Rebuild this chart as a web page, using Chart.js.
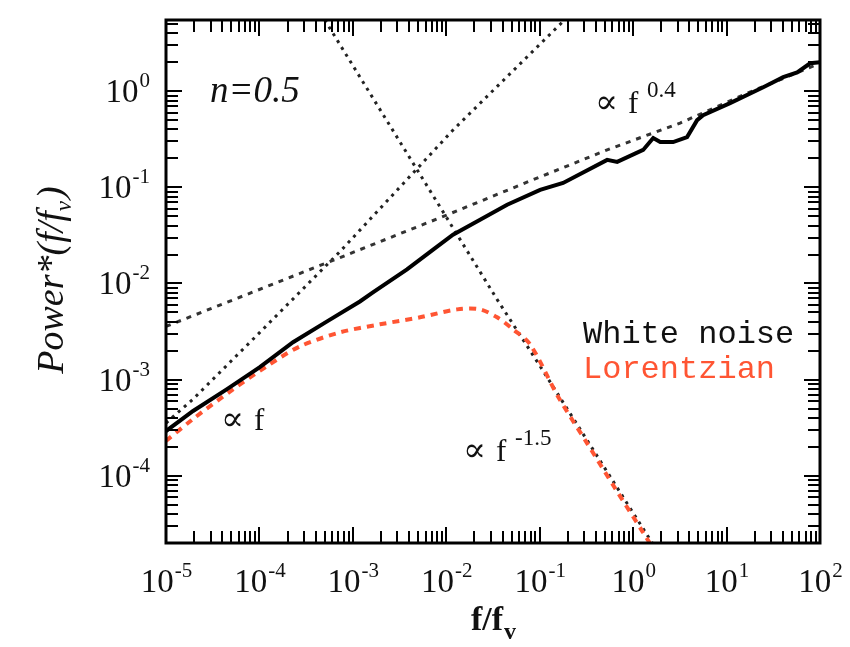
<!DOCTYPE html>
<html>
<head>
<meta charset="utf-8">
<script src="https://cdn.jsdelivr.net/npm/chart.js@4.4.1/dist/chart.umd.min.js"></script>
<style>
  html, body { margin: 0; padding: 0; background: #fff; }
  #wrap { width: 850px; height: 647px; position: relative; }
</style>
</head>
<body>
<div id="wrap"><canvas id="chart"></canvas></div>
<script>
// values, f/f_v against Power*(f/f_v)
const whiteFreq = [1e-5, 1.95e-5, 4.5e-5, 1.01e-4, 2.29e-4, 5.3e-4, 1.19e-3, 1.64e-3, 3.8e-3, 7.23e-3,
  1.18e-2, 2.3e-2, 4.48e-2, 0.101, 0.178, 0.527, 0.675, 1.28, 1.64, 1.95,
  2.68, 3.78, 4.84, 5.61, 10.9, 24.7, 40.4, 57.0, 78.5, 100];
const whitePower = [2.92e-4, 4.72e-4, 7.98e-4, 1.35e-3, 2.45e-3, 4.04e-3, 6.5e-3, 8.07e-3, 1.4e-2, 2.25e-2,
  3.22e-2, 4.6e-2, 6.59e-2, 9.42e-2, 0.111, 0.193, 0.184, 0.245, 0.326, 0.296,
  0.296, 0.333, 0.5, 0.564, 0.752, 1.1, 1.4, 1.57, 1.95, 2.0];

const lorFreq = [1e-5, 1.95e-5, 5.09e-5, 1.2e-4, 2.72e-4, 7.29e-4, 1.95e-3, 5.24e-3, 1.31e-2, 2.3e-2,
  3.5e-2, 5.19e-2, 7.89e-2, 0.158, 0.316, 0.631, 1.26, 2.0];
const lorPower = [2.31e-4, 3.9e-4, 7.78e-4, 1.38e-3, 2.22e-3, 3.1e-3, 3.76e-3, 4.45e-3, 5.38e-3, 5.38e-3,
  4.45e-3, 3.33e-3, 2.33e-3, 6.6e-4, 2.24e-4, 7.6e-5, 2.63e-5, 1.29e-5];

// guide lines: ∝ f, ∝ f^0.4, ∝ f^-1.5
const slope1Freq = [1e-5, 1.95e-5, 1.01e-4, 7.29e-4, 1.18e-2, 0.153, 0.187];
const slope1Power = [3.54e-4, 6.28e-4, 3.1e-3, 2.15e-2, 0.394, 4.61, 5.57];
const slope04Freq = [1e-5, 7.29e-4, 8.59e-3, 8.49e-2, 0.527, 3.18, 16.6, 100];
const slope04Power = [3.58e-3, 1.86e-2, 4.83e-2, 0.12, 0.245, 0.466, 0.953, 1.95];
const slopeM15Freq = [4.47e-4, 5.04e-4, 3.5e-2, 0.101, 1.28, 1.78];
const slopeM15Power = [6.46, 5.44, 6.82e-3, 1.38e-3, 2.82e-5, 1.7e-5];

const xTickExps = [-5, -4, -3, -2, -1, 0, 1, 2];
const yTickExps = [-4, -3, -2, -1, 0];

const RED = '#ff5533';
const SERIF = '"Liberation Serif", "DejaVu Serif", serif';

const pts = (xs, ys) => xs.map((v, i) => ({ x: v, y: ys[i] }));

// decade ticks plus the 2..9 minors inside the axis range
function logTicks(min, max) {
  const out = [];
  for (let e = Math.floor(Math.log10(min)); e <= Math.ceil(Math.log10(max)); e++) {
    for (let m = 1; m <= 9; m++) {
      const v = m * Math.pow(10, e);
      if (v >= min * 0.999 && v <= max * 1.001) out.push({ value: v });
    }
  }
  return out;
}
const isDecade = v => Math.abs(Math.log10(v) - Math.round(Math.log10(v))) < 1e-6;

function drawPow(ctx, exp, x, y, align) {
  const base = '10', sup = String(exp);
  ctx.font = '33px ' + SERIF;
  const wb = ctx.measureText(base).width;
  ctx.font = '21px ' + SERIF;
  const ws = ctx.measureText(sup).width;
  const left = align === 'center' ? x - (wb + ws) / 2 : x - wb - ws;
  ctx.font = '33px ' + SERIF;
  ctx.fillText(base, left, y);
  ctx.font = '21px ' + SERIF;
  ctx.fillText(sup, left + wb + 1, y - 15);
}

function propTo(ctx, x, y, sup) {
  ctx.font = '34px "DejaVu Serif", serif';
  ctx.fillText('∝', x - 2, y);
  ctx.font = '31px ' + SERIF;
  ctx.fillText('f', x + 31, y);
  if (sup) {
    ctx.font = '23px ' + SERIF;
    ctx.fillText(sup, x + 50, y - 16);
  }
}

const framePlugin = {
  id: 'frame',
  afterDraw(chart) {
    const { ctx, chartArea: a, scales: { x, y } } = chart;
    ctx.save();
    ctx.strokeStyle = '#000';
    ctx.fillStyle = '#111';
    ctx.lineWidth = 2;
    ctx.beginPath();
    x.ticks.forEach(t => {
      const px = Math.round(x.getPixelForValue(t.value));
      const len = isDecade(t.value) ? 16 : 12;
      ctx.moveTo(px, a.bottom); ctx.lineTo(px, a.bottom - len);
      ctx.moveTo(px, a.top); ctx.lineTo(px, a.top + len);
    });
    y.ticks.forEach(t => {
      const py = Math.round(y.getPixelForValue(t.value));
      const len = isDecade(t.value) ? 16 : 12;
      ctx.moveTo(a.left, py); ctx.lineTo(a.left + len, py);
      ctx.moveTo(a.right, py); ctx.lineTo(a.right - len, py);
    });
    ctx.stroke();
    ctx.lineWidth = 3;
    ctx.strokeRect(a.left, a.top, a.right - a.left, a.bottom - a.top);

    ctx.textBaseline = 'alphabetic';
    ctx.textAlign = 'left';
    xTickExps.forEach(e => drawPow(ctx, e, x.getPixelForValue(Math.pow(10, e)), a.bottom + 49, 'center'));
    yTickExps.forEach(e => drawPow(ctx, e, a.left - 17, y.getPixelForValue(Math.pow(10, e)) + 11, 'right'));

    // x title f/f_v
    ctx.font = 'bold 34px ' + SERIF;
    const wt = ctx.measureText('f/f').width;
    ctx.font = 'bold 24px ' + SERIF;
    const wv = ctx.measureText('v').width;
    const tx = (a.left + a.right) / 2 - (wt + wv) / 2;
    ctx.font = 'bold 34px ' + SERIF;
    ctx.fillText('f/f', tx, 630);
    ctx.font = 'bold 24px ' + SERIF;
    ctx.fillText('v', tx + wt + 1, 639);

    // y title Power*(f/f_v)
    ctx.save();
    ctx.translate(63, 281);
    ctx.rotate(-Math.PI / 2);
    ctx.font = 'italic 38px ' + SERIF;
    const w1 = ctx.measureText('Power*(f/f').width;
    const w3 = ctx.measureText(')').width;
    ctx.font = 'italic 23px ' + SERIF;
    const w2 = ctx.measureText('v').width;
    const sx = -(w1 + w2 + w3) / 2;
    ctx.font = 'italic 38px ' + SERIF;
    ctx.fillText('Power*(f/f', sx, 0);
    ctx.font = 'italic 23px ' + SERIF;
    ctx.fillText('v', sx + w1, 8);
    ctx.font = 'italic 38px ' + SERIF;
    ctx.fillText(')', sx + w1 + w2 + 2, 0);
    ctx.restore();

    // annotations
    ctx.font = 'italic 37px ' + SERIF;
    ctx.fillText('n=0.5', 210, 102);
    propTo(ctx, 597, 113, '0.4');
    propTo(ctx, 223, 430, null);
    propTo(ctx, 465, 461, '-1.5');

    ctx.font = '32px "Liberation Mono", "DejaVu Sans Mono", monospace';
    ctx.fillStyle = '#111';
    ctx.fillText('White noise', 583, 343);
    ctx.fillStyle = RED;
    ctx.fillText('Lorentzian', 583, 378);
    ctx.restore();
  }
};

const axisBase = {
  type: 'logarithmic',
  display: true,
  grid: { display: false, drawTicks: false },
  border: { display: false },
  ticks: { display: false },
  afterBuildTicks: scale => { scale.ticks = logTicks(scale.min, scale.max); }
};

new Chart(document.getElementById('chart').getContext('2d'), {
  type: 'scatter',
  data: {
    datasets: [
      { label: 'White noise', data: pts(whiteFreq, whitePower), showLine: true,
        borderColor: '#000', borderWidth: 4, pointRadius: 0, tension: 0 },
      { label: 'Lorentzian', data: pts(lorFreq, lorPower), showLine: true,
        borderColor: RED, borderWidth: 4, borderDash: [7, 6], pointRadius: 0, tension: 0.3 },
      { label: 'f^0.4', data: pts(slope04Freq, slope04Power), showLine: true,
        borderColor: '#333', borderWidth: 3, borderDash: [5, 6], pointRadius: 0 },
      { label: 'f', data: pts(slope1Freq, slope1Power), showLine: true,
        borderColor: '#222', borderWidth: 3, borderDash: [3, 5], pointRadius: 0 },
      { label: 'f^-1.5', data: pts(slopeM15Freq, slopeM15Power), showLine: true,
        borderColor: '#222', borderWidth: 3, borderDash: [3, 5], pointRadius: 0 }
    ]
  },
  options: {
    responsive: true,
    maintainAspectRatio: false,
    animation: false,
    layout: { padding: { left: 166, top: 20, right: 30, bottom: 104 } },
    plugins: { legend: { display: false }, tooltip: { enabled: false } },
    scales: {
      x: { ...axisBase, min: 1e-5, max: 1e2 },
      y: { ...axisBase, min: 2e-5, max: 5.5 }
    }
  },
  plugins: [framePlugin]
});
</script>
</body>
</html>
